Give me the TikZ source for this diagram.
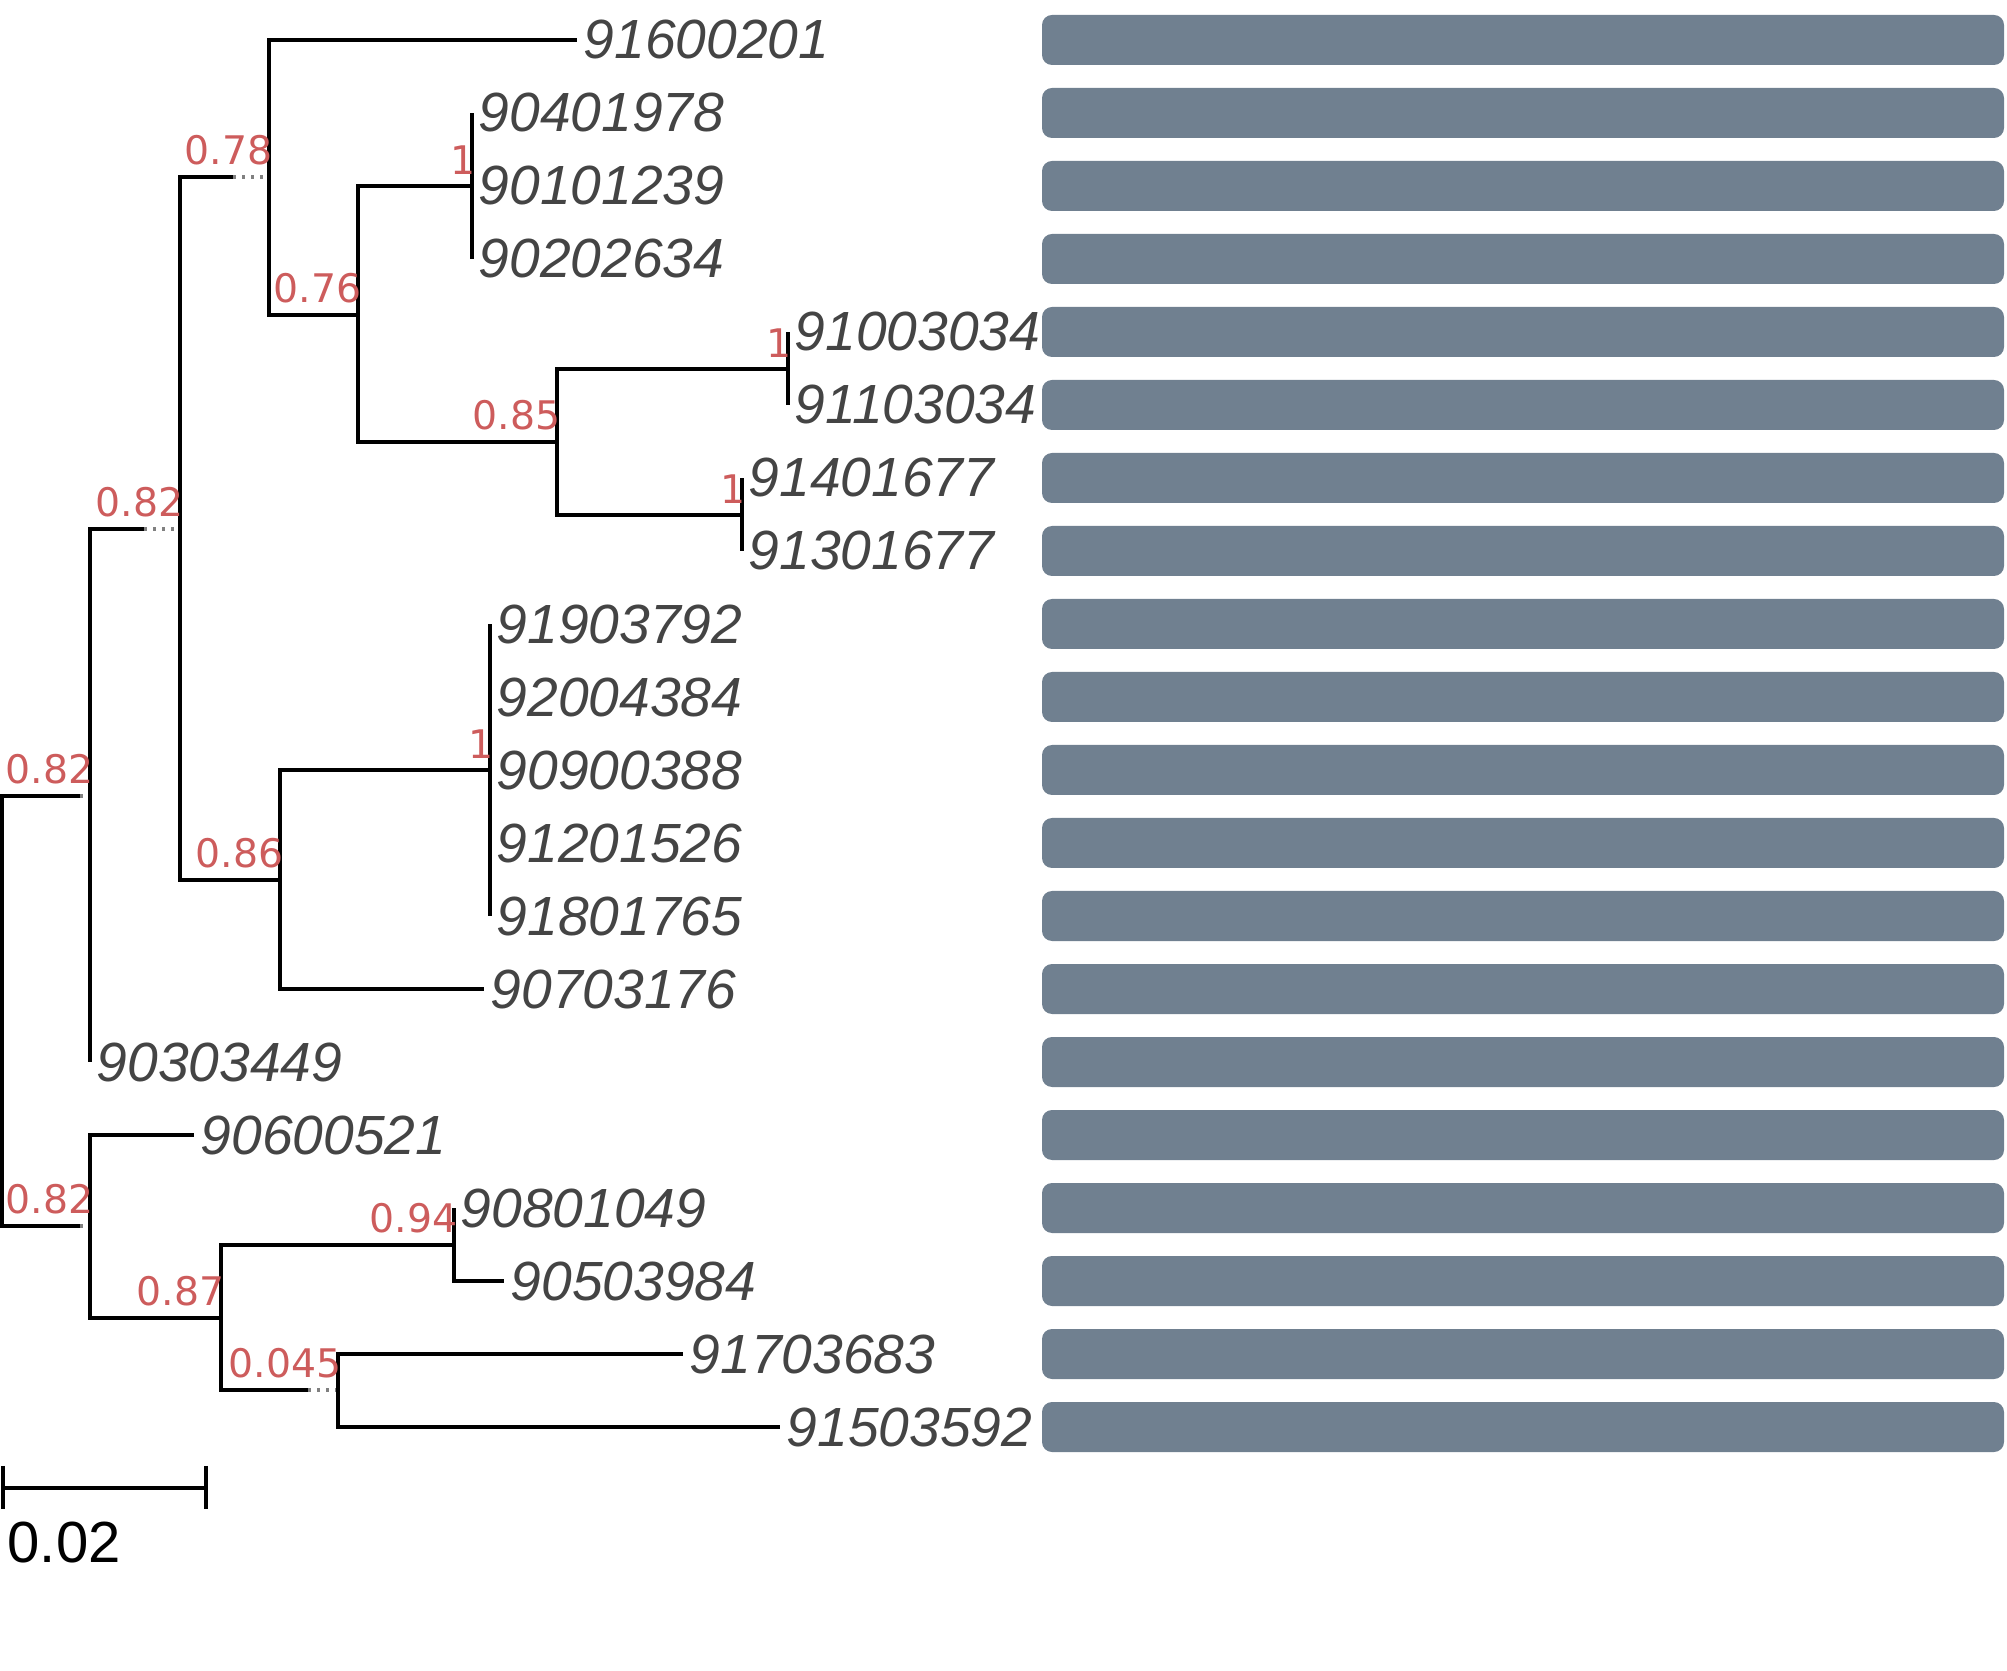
\documentclass[tikz,border=0pt]{standalone}
\usepackage{fontspec}
\setmainfont{Liberation Sans}
\newfontfamily\suppfont{DejaVu Sans}
\usetikzlibrary{positioning}
\definecolor{barcol}{RGB}{112,128,144}
\definecolor{suppcol}{RGB}{205,92,92}
\definecolor{leafcol}{RGB}{68,68,68}
\tikzset{branch/.style = {line width = 0.033cm}}
\tikzset{gap/.style = {gray, line width = 0.033cm, dash pattern = on 0.03cm off 0.06cm}}
\tikzset{leaf/.style = {anchor = west, inner sep = 0, xshift = 0.06cm, text = leafcol,
                        font = \fontsize{15.7}{15.7}\selectfont\itshape}}
\tikzset{supp/.style = {anchor = south east, inner sep = 0, xshift = 0.04cm, yshift = 0.11cm, text = suppcol,
                        font = \suppfont\fontsize{11.2}{11.2}\selectfont}}
\tikzset{bar/.style = {fill = barcol, rounded corners = 0.1cm}}

\begin{document}
\begin{tikzpicture}[x = 0.01cm, y = -0.01cm]
        \useasboundingbox (0, 0) rectangle (2007, 1671);

        \coordinate (nR) at (2, 1011);
        \coordinate (nA) at (90, 796);
        \coordinate (nB) at (180, 529);
        \coordinate (nC) at (269, 177);
        \coordinate (nD) at (358, 315);
        \coordinate (nE) at (472, 186);
        \coordinate (nF) at (557, 442);
        \coordinate (nG) at (788, 369);
        \coordinate (nH) at (742, 515);
        \coordinate (nI) at (280, 880);
        \coordinate (nJ) at (490, 770);
        \coordinate (nK) at (90, 1226);
        \coordinate (nL) at (221, 1318);
        \coordinate (nM) at (454, 1245);
        \coordinate (nN) at (338, 1390);

        \coordinate (gA) at (80, 796);
        \coordinate (gB) at (144, 529);
        \coordinate (gC) at (233, 177);
        \coordinate (gK) at (80, 1226);
        \coordinate (gN) at (308, 1390);

        \coordinate (t1) at (577, 40);
        \coordinate (t2) at (472, 113);
        \coordinate (t3) at (472, 186);
        \coordinate (t4) at (472, 259);
        \coordinate (t5) at (788, 332);
        \coordinate (t6) at (788, 405);
        \coordinate (t7) at (742, 478);
        \coordinate (t8) at (742, 551);
        \coordinate (t9) at (490, 624);
        \coordinate (t10) at (490, 697);
        \coordinate (t11) at (490, 770);
        \coordinate (t12) at (490, 843);
        \coordinate (t13) at (490, 916);
        \coordinate (t14) at (484, 989);
        \coordinate (t15) at (90, 1062);
        \coordinate (t16) at (194, 1135);
        \coordinate (t17) at (454, 1208);
        \coordinate (t18) at (504, 1281);
        \coordinate (t19) at (683, 1354);
        \coordinate (t20) at (780, 1427);

        \fill [bar] (1042, 15) rectangle (2004, 65);
        \fill [bar] (1042, 88) rectangle (2004, 138);
        \fill [bar] (1042, 161) rectangle (2004, 211);
        \fill [bar] (1042, 234) rectangle (2004, 284);
        \fill [bar] (1042, 307) rectangle (2004, 357);
        \fill [bar] (1042, 380) rectangle (2004, 430);
        \fill [bar] (1042, 453) rectangle (2004, 503);
        \fill [bar] (1042, 526) rectangle (2004, 576);
        \fill [bar] (1042, 599) rectangle (2004, 649);
        \fill [bar] (1042, 672) rectangle (2004, 722);
        \fill [bar] (1042, 745) rectangle (2004, 795);
        \fill [bar] (1042, 818) rectangle (2004, 868);
        \fill [bar] (1042, 891) rectangle (2004, 941);
        \fill [bar] (1042, 964) rectangle (2004, 1014);
        \fill [bar] (1042, 1037) rectangle (2004, 1087);
        \fill [bar] (1042, 1110) rectangle (2004, 1160);
        \fill [bar] (1042, 1183) rectangle (2004, 1233);
        \fill [bar] (1042, 1256) rectangle (2004, 1306);
        \fill [bar] (1042, 1329) rectangle (2004, 1379);
        \fill [bar] (1042, 1402) rectangle (2004, 1452);

        \draw [branch] (nR) |- (gA);
        \draw [gap] (gA) -- (nA);
        \draw [branch] (nR) |- (gK);
        \draw [gap] (gK) -- (nK);
        \draw [branch] (nA) |- (gB);
        \draw [gap] (gB) -- (nB);
        \draw [branch] (nA) |- (t15);
        \draw [branch] (nB) |- (gC);
        \draw [gap] (gC) -- (nC);
        \draw [branch] (nB) |- (nI);
        \draw [branch] (nC) |- (t1);
        \draw [branch] (nC) |- (nD);
        \draw [branch] (nD) |- (nE);
        \draw [branch] (nD) |- (nF);
        \draw [branch] (nE) |- (t2);
        \draw [branch] (nE) |- (t4);
        \draw [branch] (nF) |- (nG);
        \draw [branch] (nF) |- (nH);
        \draw [branch] (nG) |- (t5);
        \draw [branch] (nG) |- (t6);
        \draw [branch] (nH) |- (t7);
        \draw [branch] (nH) |- (t8);
        \draw [branch] (nI) |- (nJ);
        \draw [branch] (nI) |- (t14);
        \draw [branch] (nJ) |- (t9);
        \draw [branch] (nJ) |- (t13);
        \draw [branch] (nK) |- (t16);
        \draw [branch] (nK) |- (nL);
        \draw [branch] (nL) |- (nM);
        \draw [branch] (nL) |- (gN);
        \draw [gap] (gN) -- (nN);
        \draw [branch] (nM) |- (t17);
        \draw [branch] (nM) |- (t18);
        \draw [branch] (nN) |- (t19);
        \draw [branch] (nN) |- (t20);

        \node [supp] (sA) at (nA) {0.82};
        \node [supp] (sB) at (nB) {0.82};
        \node [supp] (sC) at (nC) {0.78};
        \node [supp] (sD) at (nD) {0.76};
        \node [supp] (sE) at (nE) {1};
        \node [supp] (sF) at (nF) {0.85};
        \node [supp] (sG) at (nG) {1};
        \node [supp] (sH) at (nH) {1};
        \node [supp] (sI) at (nI) {0.86};
        \node [supp] (sJ) at (nJ) {1};
        \node [supp] (sK) at (nK) {0.82};
        \node [supp] (sL) at (nL) {0.87};
        \node [supp] (sM) at (nM) {0.94};
        \node [supp] (sN) at (nN) {0.045};

        \node [leaf] (l91600201) at (t1) {91600201};
        \node [leaf] (l90401978) at (t2) {90401978};
        \node [leaf] (l90101239) at (t3) {90101239};
        \node [leaf] (l90202634) at (t4) {90202634};
        \node [leaf] (l91003034) at (t5) {91003034};
        \node [leaf] (l91103034) at (t6) {91103034};
        \node [leaf] (l91401677) at (t7) {91401677};
        \node [leaf] (l91301677) at (t8) {91301677};
        \node [leaf] (l91903792) at (t9) {91903792};
        \node [leaf] (l92004384) at (t10) {92004384};
        \node [leaf] (l90900388) at (t11) {90900388};
        \node [leaf] (l91201526) at (t12) {91201526};
        \node [leaf] (l91801765) at (t13) {91801765};
        \node [leaf] (l90703176) at (t14) {90703176};
        \node [leaf] (l90303449) at (t15) {90303449};
        \node [leaf] (l90600521) at (t16) {90600521};
        \node [leaf] (l90801049) at (t17) {90801049};
        \node [leaf] (l90503984) at (t18) {90503984};
        \node [leaf] (l91703683) at (t19) {91703683};
        \node [leaf] (l91503592) at (t20) {91503592};

        \coordinate (sbL) at (3, 1488);
        \coordinate (sbR) at (206, 1488);
        \draw [branch] (sbL) -- (sbR);
        \draw [branch] ([yshift = 0.22cm] sbL) -- ([yshift = -0.21cm] sbL);
        \draw [branch] ([yshift = 0.22cm] sbR) -- ([yshift = -0.21cm] sbR);
        \node [anchor = north west, inner sep = 0, font = \fontsize{16.5}{16.5}\selectfont] (sbLabel) at (7, 1521) {0.02};
      \end{tikzpicture}
\end{document}
